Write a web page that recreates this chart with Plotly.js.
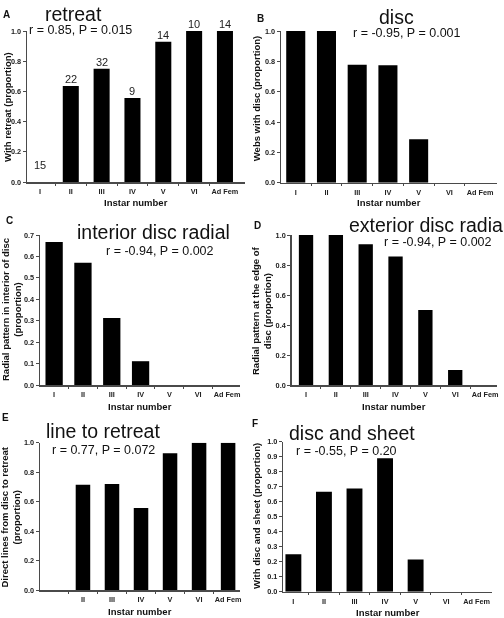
<!DOCTYPE html>
<html>
<head>
<meta charset="utf-8">
<script src="https://cdn.plot.ly/plotly-3.0.1.min.js"></script>
<style>
  html, body { margin: 0; padding: 0; background: #fff; }
  #chart { width: 504px; height: 618px; }
  /* grayscale text smoothing for the small tick labels */
  #chart svg { will-change: transform; -webkit-font-smoothing: antialiased; }
</style>
</head>
<body>
<div id="chart"></div>
<script>
// Web features by instar: proportion of webs with each feature
const instars = ['I', 'II', 'III', 'IV', 'V', 'VI', 'Ad Fem'];
const lineToRetreatTicks = ['', 'II', 'III', 'IV', 'V', 'VI', 'Ad Fem'];

const retreat = [0, 0.636, 0.75, 0.556, 0.929, 1.0, 1.0];
const retreatN = [15, 22, 32, 9, 14, 10, 14];
const disc = [1.0, 1.0, 0.778, 0.775, 0.286, 0, 0];
const interiorRadial = [0.667, 0.571, 0.3125, 0.111, 0, 0, 0];
const exteriorRadial = [1.0, 1.0, 0.938, 0.857, 0.5, 0.1, 0];
const lineToRetreat = [null, 0.714, 0.72, 0.556, 0.929, 1.0, 1.0];
const discSheet = [0.25, 0.667, 0.6875, 0.889, 0.214, 0, 0];

const W = 504, H = 618;
const FONT = 'Liberation Sans, Arial, Helvetica, sans-serif';
const INK = '#111';
const AXIS = '#4a4a4a';

// Panel layout in pixels: box = [left, right, top, bottom]
const panels = [
  { letter: 'A', title: 'retreat', stats: 'r = 0.85, P = 0.015', values: retreat, labels: instars,
    ymax: 1.0, dtick: 0.2, ytitle: 'With retreat (proportion)',
    box: [27, 245, 31, 182], xrange: [-0.42, 6.65], barWidth: 0.52,
    titleAt: [73, 14], statsAt: [80, 30.3], letterAt: [6, 15], ytitleAt: [7, 107], xtitleY: 202,
    counts: retreatN },
  { letter: 'B', title: 'disc', stats: 'r = -0.95, P = 0.001', values: disc, labels: instars,
    ymax: 1.0, dtick: 0.2, ytitle: 'Webs with disc (proportion)',
    box: [281, 497, 31, 182.7], xrange: [-0.48, 6.55], barWidth: 0.62,
    titleAt: [396.7, 16.7], statsAt: [406.7, 32.7], letterAt: [260, 18.3], ytitleAt: [256.7, 98.5], xtitleY: 202 },
  { letter: 'C', title: 'interior disc radial', stats: 'r = -0.94, P = 0.002', values: interiorRadial, labels: instars,
    ymax: 0.7, dtick: 0.1, ytitle: 'Radial pattern in interior of disc<br>(proportion)',
    box: [40, 240, 235, 385], xrange: [-0.49, 6.45], barWidth: 0.6,
    titleAt: [153, 232.5], statsAt: [160, 250.6], letterAt: [9, 220.3], ytitleAt: [11, 310], xtitleY: 406.7 },
  { letter: 'D', title: 'exterior disc radia', stats: 'r = -0.94, P = 0.002', values: exteriorRadial, labels: instars,
    ymax: 1.0, dtick: 0.2, ytitle: 'Radial pattern at the edge of<br>disc (proportion)',
    box: [291.7, 496.7, 235, 385], xrange: [-0.48, 6.39], barWidth: 0.48,
    titleAt: [425.7, 225], statsAt: [438.3, 242.5], letterAt: [257.5, 225], ytitleAt: [261, 311], xtitleY: 406.7 },
  { letter: 'E', title: 'line to retreat', stats: 'r = 0.77, P = 0.072', values: lineToRetreat, labels: lineToRetreatTicks,
    ymax: 1.0, dtick: 0.2, ytitle: 'Direct lines from disc to retreat<br>(proportion)',
    box: [40, 240, 442.7, 590], xrange: [-0.48, 6.41], barWidth: 0.5,
    titleAt: [103.3, 430.5], statsAt: [103.3, 450.3], letterAt: [5.5, 417.5], ytitleAt: [10, 517.5], xtitleY: 611.7 },
  { letter: 'F', title: 'disc and sheet', stats: 'r = -0.55, P = 0.20', values: discSheet, labels: instars,
    ymax: 1.0, dtick: 0.1, ytitle: 'With disc and sheet (proportion)',
    box: [283.3, 491.7, 441.7, 591.7], xrange: [-0.33, 6.49], barWidth: 0.52,
    titleAt: [351.7, 433], statsAt: [346.7, 450.8], letterAt: [255, 423.3], ytitleAt: [256, 516], xtitleY: 612 }
];

const px = x => x / W;
const py = y => 1 - y / H;

const traces = [];
const annotations = [];
const layout = {
  width: W, height: H,
  margin: { l: 0, r: 0, t: 0, b: 0 },
  paper_bgcolor: '#fff', plot_bgcolor: '#fff',
  showlegend: false,
  font: { family: FONT, color: INK },
  annotations: annotations
};

function paperText(text, x, y, size, bold, extra) {
  annotations.push(Object.assign({
    xref: 'paper', yref: 'paper', x: px(x), y: py(y),
    xanchor: 'center', yanchor: 'middle', showarrow: false,
    text: text,
    font: { family: FONT, size: size, color: INK, weight: bold ? 700 : 400 }
  }, extra || {}));
}

panels.forEach((p, i) => {
  const n = i === 0 ? '' : String(i + 1);
  const xa = 'x' + n, ya = 'y' + n;
  const idx = p.labels.map((_, k) => k);

  traces.push({
    type: 'bar', x: idx, y: p.values, xaxis: xa, yaxis: ya,
    width: p.barWidth, marker: { color: '#000', line: { width: 0 } },
    hoverinfo: 'skip'
  });

  layout['xaxis' + n] = {
    domain: [px(p.box[0]), px(p.box[1])], anchor: ya,
    range: p.xrange, fixedrange: true,
    tickmode: 'array', tickvals: idx, ticktext: p.labels,
    ticks: '', ticklabelstandoff: 2,
    tickfont: { family: FONT, size: 7.3, color: '#222', weight: 700 },
    showline: true, linecolor: AXIS, linewidth: 1.5,
    showgrid: false, zeroline: false,
    minor: { tickmode: 'array', tickvals: idx.slice(0, -1).map(k => k + 0.5),
             ticks: 'outside', ticklen: 2, tickwidth: 1, tickcolor: AXIS, showgrid: false }
  };
  layout['yaxis' + n] = {
    domain: [py(p.box[3]), py(p.box[2])], anchor: xa,
    range: [0, p.ymax], fixedrange: true,
    tickmode: 'linear', tick0: 0, dtick: p.dtick, tickformat: '.1f',
    ticks: 'outside', ticklen: 3, tickwidth: 1, tickcolor: AXIS,
    tickfont: { family: FONT, size: 7.3, color: '#222', weight: 700 },
    showline: true, linecolor: AXIS, linewidth: 1.5,
    showgrid: false, zeroline: false
  };

  paperText(p.title, p.titleAt[0], p.titleAt[1], 19.5, false);
  paperText(p.stats, p.statsAt[0], p.statsAt[1], 12.5, false);
  paperText(p.letter, p.letterAt[0], p.letterAt[1], 10, true);
  paperText(p.ytitle, p.ytitleAt[0], p.ytitleAt[1], 9.5, true, { textangle: -90 });
  paperText('Instar number', (p.box[0] + p.box[1]) / 2, p.xtitleY, 9.5, true);

  // sample sizes above each bar
  if (p.counts) {
    p.counts.forEach((c, k) => {
      const v = p.values[k];
      annotations.push({
        xref: xa, yref: ya, x: k, y: v,
        xanchor: 'center', yanchor: 'middle', showarrow: false,
        yshift: v > 0 ? 7 : 17.5,
        text: String(c),
        font: { family: FONT, size: 11, color: '#222' }
      });
    });
  }
});

Plotly.newPlot('chart', traces, layout, { staticPlot: true, displayModeBar: false });
</script>
</body>
</html>
